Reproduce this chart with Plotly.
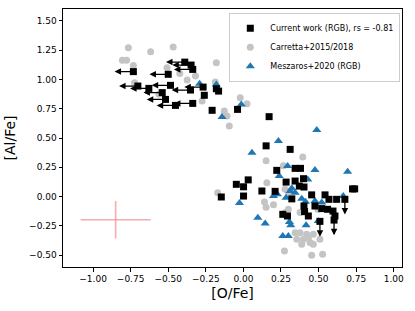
import plotly.graph_objects as go

# Current work (RGB): upper limits in [O/Fe] (arrows to the left)
cw_olim_x = [-0.732, -0.500, -0.390, -0.348, -0.337, -0.702, -0.629, -0.540, -0.485,
             -0.518, -0.452, -0.337, -0.352, -0.268]
cw_olim_y = [1.066, 1.043, 1.147, 1.122, 1.085, 0.943, 0.923, 0.887, 0.949,
             0.829, 0.778, 0.795, 0.909, 0.934]
o_arrow_len = 0.125

# Current work (RGB): upper limits in [Al/Fe] (arrows downward)
cw_allim_x = [0.675, 0.603, 0.509]
cw_allim_y = [-0.023, -0.200, -0.211]
al_arrow_len = 0.13

# Current work (RGB): detections
cw_x = [-0.260, -0.180, -0.165, -0.208, -0.039, 0.171, 0.151, 0.311, 0.344, 0.380,
        0.222, 0.032, 0.284, 0.344, 0.400, 0.372, 0.403, -0.047, 0.001, -0.147,
        0.001, 0.123, 0.211, 0.322, 0.454, 0.543, 0.569, 0.620, 0.726, 0.262,
        0.293, 0.403, 0.407, 0.432, 0.476, 0.521, 0.560, 0.596, 0.609, 0.740]
cw_y = [0.864, 0.920, 0.900, 0.736, 0.744, 0.682, 0.433, 0.403, 0.241, 0.241,
        0.224, 0.143, 0.124, 0.133, 0.153, 0.090, 0.082, 0.105, 0.084, -0.003,
        0.005, 0.048, 0.045, -0.019, 0.015, 0.015, -0.023, -0.023, 0.066, -0.151,
        -0.165, -0.080, -0.128, -0.165, -0.080, -0.102, -0.108, -0.123, -0.165, 0.066]

# Carretta+2015/2018
car_x = [-0.765, -0.617, -0.467, -0.805, -0.777, -0.732, -0.508, -0.423, -0.374, -0.319,
         -0.724, -0.562, -0.275, -0.180, -0.187, -0.127, -0.109, -0.094, -0.021, 0.024,
         0.151, 0.395, 0.266, 0.156, -0.171, 0.277, 0.299, 0.140, 0.151, 0.200,
         0.277, 0.299, 0.377, 0.344, 0.377, 0.421, 0.465, 0.355, 0.399, 0.432,
         0.443, 0.465, 0.388, 0.509, 0.273, 0.454, 0.527, 0.496]
car_y = [1.270, 1.236, 1.275, 1.162, 1.162, 1.119, 1.100, 1.051, 0.994, 1.028,
         0.972, 0.872, 0.815, 1.142, 0.977, 0.730, 0.687, 0.602, 0.844, 0.793,
         0.305, 0.338, 0.263, 0.119, 0.034, 0.062, 0.037, -0.046, -0.091, -0.070,
         -0.136, -0.108, -0.136, -0.307, -0.307, -0.321, -0.321, -0.364, -0.364, -0.350,
         -0.392, -0.407, -0.407, -0.364, -0.464, -0.500, -0.492, -0.108]

# Meszaros+2020 (RGB)
mes_x = [-0.291, -0.180, -0.142, -0.014, 0.488, 0.233, 0.057, 0.294, 0.476, 0.693,
         0.238, 0.428, 0.322, -0.026, 0.200, 0.226, 0.311, 0.344, 0.284, 0.388,
         0.413, 0.476, 0.521, 0.664, 0.096, 0.145, 0.306, 0.315, 0.417, 0.498,
         0.262, 0.299]
mes_y = [0.963, 0.957, 0.679, 0.786, 0.568, 0.474, 0.375, 0.261, 0.228, 0.213,
         0.176, 0.147, 0.071, -0.055, 0.005, 0.020, 0.048, 0.034, -0.009, -0.017,
         -0.044, -0.038, -0.051, 0.005, -0.179, -0.230, -0.217, -0.245, -0.245, -0.208,
         -0.336, -0.336]

# Typical error bar
err_x, err_y = [-0.85], [-0.197]
err_dx, err_dy = 0.233, 0.16

x_ticks = [-1.0, -0.75, -0.5, -0.25, 0.0, 0.25, 0.5, 0.75, 1.0]
y_ticks = [-0.5, -0.25, 0.0, 0.25, 0.5, 0.75, 1.0, 1.25, 1.5]

FONT = "DejaVu Sans"

fig = go.Figure()

fig.add_trace(go.Scatter(
    x=err_x, y=err_y, mode="markers",
    marker=dict(size=1, color="rgba(0,0,0,0)"),
    error_x=dict(type="constant", value=err_dx, color="rgba(240,128,128,0.65)", thickness=1.6, width=0),
    error_y=dict(type="constant", value=err_dy, color="rgba(240,128,128,0.65)", thickness=1.6, width=0),
    showlegend=False, hoverinfo="skip"))

fig.add_trace(go.Scatter(
    x=car_x, y=car_y, mode="markers", name="Carretta+2015/2018",
    marker=dict(symbol="circle", size=7, color="#c4c4c4"), legendrank=2))

fig.add_trace(go.Scatter(
    x=mes_x, y=mes_y, mode="markers", name="Meszaros+2020 (RGB)",
    marker=dict(symbol="triangle-up", size=8, color="#1f77b4"), legendrank=3))

fig.add_trace(go.Scatter(
    x=cw_x + cw_olim_x + cw_allim_x, y=cw_y + cw_olim_y + cw_allim_y,
    mode="markers", name="Current work (RGB), rs = -0.81",
    marker=dict(symbol="square", size=7, color="black"), legendrank=1))

annotations = []
for x, y in zip(cw_olim_x, cw_olim_y):
    annotations.append(dict(x=x - o_arrow_len, y=y, ax=x, ay=y, xref="x", yref="y",
                            axref="x", ayref="y", showarrow=True, arrowhead=2,
                            arrowsize=1, arrowwidth=1.3, arrowcolor="black", text="", standoff=0))
for x, y in zip(cw_allim_x, cw_allim_y):
    annotations.append(dict(x=x, y=y - al_arrow_len, ax=x, ay=y, xref="x", yref="y",
                            axref="x", ayref="y", showarrow=True, arrowhead=2,
                            arrowsize=1, arrowwidth=1.3, arrowcolor="black", text="", standoff=0))

axis_common = dict(showline=True, mirror=True, linecolor="black", linewidth=1,
                   ticks="outside", ticklen=3.5, tickwidth=0.8, tickcolor="black",
                   showgrid=False, zeroline=False, tickformat=".2f", automargin=False,
                   tickfont=dict(family=FONT, size=9, color="black"))

fig.update_layout(
    width=415, height=311,
    margin=dict(l=63, r=13, t=9, b=44),
    paper_bgcolor="white", plot_bgcolor="white",
    font=dict(family=FONT, color="black"),
    annotations=annotations,
    xaxis=dict(range=[-1.2, 1.055], tickvals=x_ticks,
               title=dict(text="[O/Fe]", font=dict(family=FONT, size=14), standoff=4),
               **axis_common),
    yaxis=dict(range=[-0.6, 1.6], tickvals=y_ticks,
               title=dict(text="[Al/Fe]", font=dict(family=FONT, size=14), standoff=10),
               **axis_common),
    legend=dict(x=0.995, xanchor="right", y=0.985, yanchor="top",
                bordercolor="#cccccc", borderwidth=1, bgcolor="white",
                font=dict(family=FONT, size=8, color="black"),
                itemwidth=30, tracegroupgap=0),
)

fig.write_html("out.html", config={"displayModeBar": False},
               post_script="document.body.style.margin='0';")
